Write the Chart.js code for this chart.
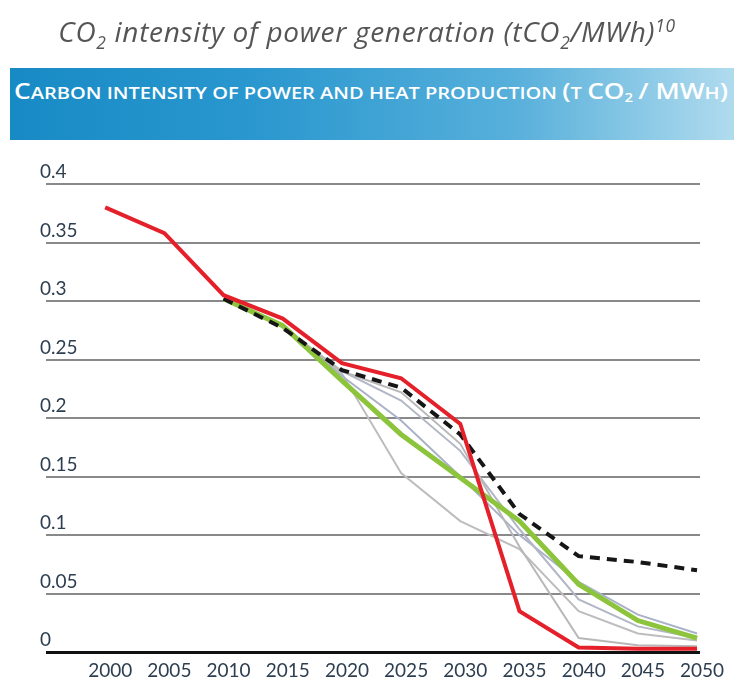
<!DOCTYPE html>
<html>
<head>
<meta charset="utf-8">
<script src="https://cdn.jsdelivr.net/npm/chart.js@4.4.1/dist/chart.umd.min.js"></script>
<style>
  html, body { margin: 0; padding: 0; background: #fff; overflow: hidden; }
  #wrap { position: relative; width: 734px; height: 682px; overflow: hidden; }
  #chart { position: absolute; left: 0; top: 0; }
  #title {
    position: absolute; left: 0; top: 12px; width: 734px; text-align: center;
    font-family: "Open Sans", sans-serif; font-style: italic; font-size: 28px;
    letter-spacing: 0.7px; color: #555555; white-space: nowrap;
  }
  #title sub, #title sup { font-size: 62%; }
  #banner {
    position: absolute; left: 10px; top: 68px; width: 724px; height: 72px;
    background: linear-gradient(to right, #178ac5 0%, #2b98cf 35%, #58b0db 70%, #b0dbee 100%);
  }
  #bannerText {
    position: absolute; left: 4px; top: 9px; transform-origin: 0 0;
    font-family: "Open Sans", sans-serif; font-weight: 600; font-size: 16px;
    text-transform: uppercase; color: #fff; white-space: nowrap;
  }
  #bannerText .c { font-size: 21px; }
  #bannerText sub { font-size: 75%; vertical-align: -3px; }
</style>
</head>
<body>
<div id="wrap">
  <canvas id="chart" width="734" height="690"></canvas>
  <div id="title">CO<sub>2</sub> intensity of power generation (tCO<sub>2</sub>/MWh)<sup>10</sup></div>
  <div id="banner"><span id="bannerText"><span class="c">C</span>arbon intensity of power and heat production <span class="c">(</span>t <span class="c">CO</span><sub>2</sub> <span class="c">/ MW</span>h<span class="c">)</span></span></div>
</div>
<script>
// years on the x axis
const years = [2000, 2005, 2010, 2015, 2020, 2025, 2030, 2035, 2040, 2045, 2050];
const yTicks = [0, 0.05, 0.1, 0.15, 0.2, 0.25, 0.3, 0.35, 0.4];

// series (tCO2/MWh)
const redLine    = [0.380, 0.358, 0.305, 0.285, 0.247, 0.234, 0.195, 0.035, 0.004, 0.003, 0.003];
const dashedLine = [null, null, 0.302, 0.277, 0.241, 0.226, 0.186, 0.118, 0.082, 0.077, 0.070];
const greenLine  = [null, null, 0.302, 0.279, 0.232, 0.186, 0.149, 0.112, 0.058, 0.027, 0.012];
const grayA      = [null, null, 0.302, 0.278, 0.238, 0.153, 0.112, 0.088, 0.035, 0.016, 0.010];
const grayB      = [null, null, 0.302, 0.278, 0.240, 0.222, 0.178, 0.090, 0.012, 0.006, 0.005];
const grayC      = [null, null, 0.302, 0.279, 0.236, 0.198, 0.150, 0.100, 0.060, 0.032, 0.016];
const grayD      = [null, null, 0.302, 0.278, 0.240, 0.215, 0.172, 0.105, 0.045, 0.022, 0.012];

// stretch banner text to the banner width
const bt = document.getElementById('bannerText');
const w = bt.getBoundingClientRect().width;
bt.style.transform = 'scaleX(' + (714 / w) + ')';

function pts(arr) {
    return years.map((yr, i) => ({ x: yr, y: arr[i] }));
}

function line(data, color, width, dash) {
    return {
        data: pts(data),
        borderColor: color,
        borderWidth: width,
        borderDash: dash || [],
        pointRadius: 0,
        tension: 0,
        fill: false
    };
}

new Chart(document.getElementById('chart').getContext('2d'), {
    type: 'line',
    data: {
        // first dataset ends up on top
        datasets: [
            line(redLine, '#e4202a', 4),
            line(dashedLine, '#161616', 4, [10, 7]),
            line(greenLine, '#8cc43c', 5),
            line(grayB, '#b8b8b8', 2),
            line(grayD, '#b2b7c5', 2),
            line(grayC, '#aab2c8', 2),
            line(grayA, '#bdbdbd', 2)
        ]
    },
    options: {
        responsive: false,
        animation: false,
        // mirrored y ticks with padding -2 take -4px of width, so left ends at 42
        layout: { padding: { left: 46, right: 34, top: 184, bottom: 0 } },
        plugins: { legend: { display: false }, tooltip: { enabled: false } },
        scales: {
            x: {
                type: 'linear',
                min: 1995,
                max: 2050.25,
                afterBuildTicks: scale => { scale.ticks = years.map(v => ({ value: v })); },
                grid: { display: false, drawTicks: false },
                border: { display: false },
                ticks: {
                    padding: 8,
                    labelOffset: 5,
                    color: '#2d3e50',
                    font: { family: 'Lato', size: 19, lineHeight: 1.15 },
                    maxRotation: 0,
                    autoSkip: false,
                    callback: v => String(v)
                }
            },
            y: {
                min: 0,
                max: 0.4,
                afterBuildTicks: scale => { scale.ticks = yTicks.map(v => ({ value: v })); },
                grid: {
                    drawTicks: false,
                    color: ctx => ctx.tick && ctx.tick.value === 0 ? '#111111' : '#898989',
                    lineWidth: ctx => ctx.tick && ctx.tick.value === 0 ? 3 : 2
                },
                border: { display: false },
                ticks: {
                    mirror: true,
                    padding: -2,
                    labelOffset: -12,
                    color: '#2d3e50',
                    font: { family: 'Lato', size: 19 },
                    callback: v => String(+v.toFixed(2))
                }
            }
        }
    }
});
</script>
</body>
</html>
